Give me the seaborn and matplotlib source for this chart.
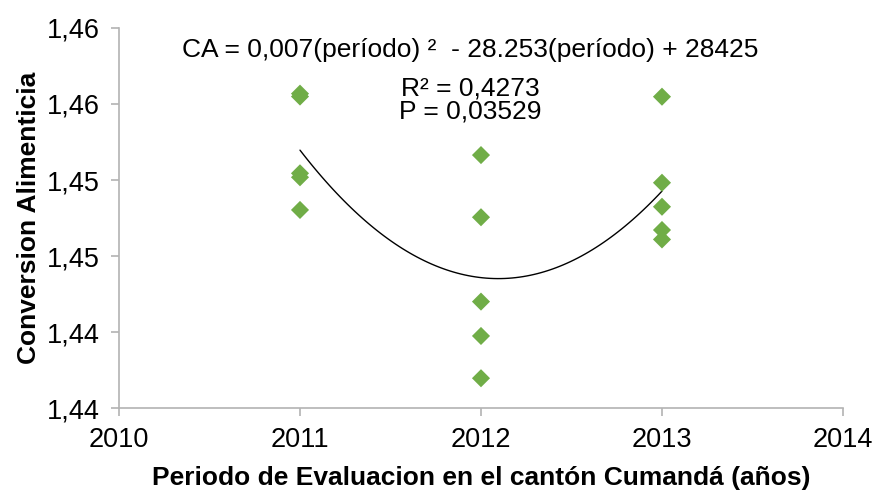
import math
import numpy as np
import pandas as pd
import matplotlib
matplotlib.use("Agg")
import matplotlib.pyplot as plt
import seaborn as sns
from matplotlib.ticker import FixedLocator, FuncFormatter

# ---- data ----
periodo = [2011, 2011, 2011, 2011, 2011,
           2012, 2012, 2012, 2012, 2012,
           2013, 2013, 2013, 2013, 2013]
conversion = [1.46068, 1.46049, 1.45544, 1.45518, 1.45303,
              1.45664, 1.45255, 1.44700, 1.44474, 1.44196,
              1.46048, 1.45482, 1.45324, 1.45171, 1.45109]
x_ticks = [2010, 2011, 2012, 2013, 2014]
y_ticks = [1.440, 1.445, 1.450, 1.455, 1.460, 1.465]
eq_text = "CA = 0,007(período) ²  - 28.253(período) + 28425"
r2_text = "R² = 0,4273"
p_text = "P = 0,03529"
x_label = "Periodo de Evaluacion en el cantón Cumandá (años)"
y_label = "Conversion Alimenticia"

df = pd.DataFrame({"periodo": periodo, "conversion": conversion})

sns.set_theme(style="white")
plt.rcParams["font.family"] = ["Liberation Sans", "DejaVu Sans"]
plt.rcParams["text.color"] = "black"
plt.rcParams["axes.labelcolor"] = "black"

fig = plt.figure(figsize=(8.75, 4.91), dpi=100)
ax = fig.add_axes([0.136, 0.169, 0.8274, 0.774])

sns.regplot(data=df, x="periodo", y="conversion", order=2, ci=None,
            scatter=False, truncate=True, ax=ax,
            line_kws=dict(color="black", linewidth=1.0))
sns.scatterplot(data=df, x="periodo", y="conversion", marker="D", s=85,
                color="#70AD47", edgecolor="none", ax=ax, zorder=3)

ax.set_xlim(2010, 2014)
ax.set_ylim(1.440, 1.465)
ax.xaxis.set_major_locator(FixedLocator(x_ticks))
ax.yaxis.set_major_locator(FixedLocator(y_ticks))
ax.yaxis.set_major_formatter(FuncFormatter(
    lambda v, p: f"{math.floor(v * 100 + 1e-6) / 100:.2f}".replace(".", ",")))
ax.xaxis.set_major_formatter(FuncFormatter(lambda v, p: f"{int(round(v))}"))

for s in ["top", "right"]:
    ax.spines[s].set_visible(False)
for s in ["left", "bottom"]:
    ax.spines[s].set_color("#B3B3B3")
    ax.spines[s].set_linewidth(1.2)
ax.tick_params(axis="both", which="major", direction="out", length=6,
               width=1.2, color="#B3B3B3", labelsize=19.5, labelcolor="black",
               left=True, bottom=True, pad=8)
ax.grid(False)

ax.set_xlabel(x_label, fontsize=19, fontweight="bold", labelpad=9)
ax.set_ylabel(y_label, fontsize=19, fontweight="bold", labelpad=4)

ax.text(0.485, 0.942, eq_text, transform=ax.transAxes, ha="center", va="center", fontsize=19)
ax.text(0.485, 0.842, r2_text, transform=ax.transAxes, ha="center", va="center", fontsize=19)
ax.text(0.485, 0.779, p_text, transform=ax.transAxes, ha="center", va="center", fontsize=19)

fig.savefig("out.png", dpi=100)
